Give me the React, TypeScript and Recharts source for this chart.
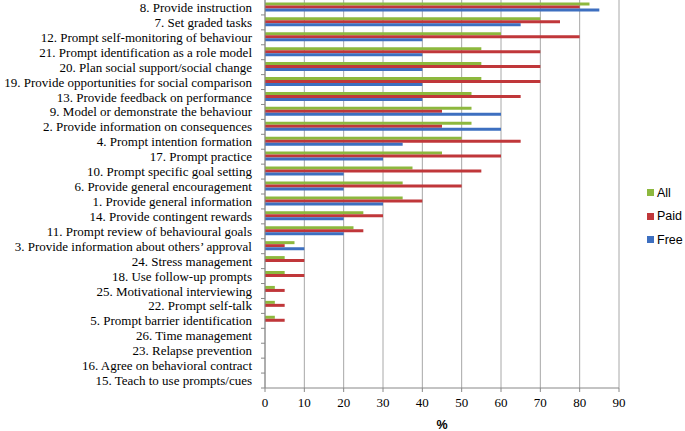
import React from "react";
import { BarChart, Bar, XAxis, YAxis, CartesianGrid, Legend, Label } from "recharts";

const categories = [
  "8. Provide instruction",
  "7. Set graded tasks",
  "12. Prompt self-monitoring of behaviour",
  "21. Prompt identification as a role model",
  "20. Plan social support/social change",
  "19. Provide opportunities for social comparison",
  "13. Provide feedback on performance",
  "9. Model or demonstrate the behaviour",
  "2. Provide information on consequences",
  "4. Prompt intention formation",
  "17. Prompt practice",
  "10. Prompt specific goal setting",
  "6. Provide general encouragement",
  "1. Provide general information",
  "14. Provide contingent rewards",
  "11. Prompt review of behavioural goals",
  "3. Provide information about others\u2019 approval",
  "24. Stress management",
  "18. Use follow-up prompts",
  "25. Motivational interviewing",
  "22. Prompt self-talk",
  "5. Prompt barrier identification",
  "26. Time management",
  "23. Relapse prevention",
  "16. Agree on behavioral contract",
  "15. Teach to use prompts/cues",
];

const allValues = [82.5, 70, 60, 55, 55, 55, 52.5, 52.5, 52.5, 50, 45, 37.5, 35, 35, 25, 22.5, 7.5, 5, 5, 2.5, 2.5, 2.5, 0, 0, 0, 0];
const paidValues = [80, 75, 80, 70, 70, 70, 65, 45, 45, 65, 60, 55, 50, 40, 30, 25, 5, 10, 10, 5, 5, 5, 0, 0, 0, 0];
const freeValues = [85, 65, 40, 40, 40, 40, 40, 60, 60, 35, 30, 20, 20, 30, 20, 20, 10, 0, 0, 0, 0, 0, 0, 0, 0, 0];

const xTicks = [0, 10, 20, 30, 40, 50, 60, 70, 80, 90];

const seriesNames = ["All", "Paid", "Free"];
const seriesColors = ["#8DB83E", "#C0373A", "#3D6FC0"];

const data = categories.map((c, i) => ({
  name: c,
  All: allValues[i],
  Paid: paidValues[i],
  Free: freeValues[i],
}));

const YTick = (props: any) => {
  const { x, y, payload } = props;
  const off = payload && typeof payload.offset === "number" ? payload.offset : 7.46;
  return (
    <g>
      <line x1={x - 4} x2={x} y1={y + off} y2={y + off} stroke="#888" strokeWidth={1} />
      <text
        x={x - 13}
        y={y}
        textAnchor="end"
        dominantBaseline="central"
        fontFamily="'Liberation Serif', 'Times New Roman', serif"
        fontSize={13}
        fill="#000"
      >
        {payload.value}
      </text>
    </g>
  );
};

const LegendContent = () => (
  <div style={{ fontFamily: "'Liberation Sans', Arial, sans-serif", fontSize: 12.5, color: "#000" }}>
    {seriesNames.map((n, i) => (
      <div key={n} style={{ display: "flex", alignItems: "center", height: 23.5 }}>
        <span style={{ display: "inline-block", width: 7, height: 7, background: seriesColors[i], marginRight: 3 }} />
        <span>{n}</span>
      </div>
    ))}
  </div>
);

export default function App() {
  return (
    <div style={{ position: "absolute", left: 0, top: 0, width: 685, height: 431, background: "#fff" }}>
      <BarChart
        width={685}
        height={431}
        data={data}
        layout="vertical"
        margin={{ top: 0, right: 66, bottom: 0, left: 0 }}
        barCategoryGap="16%"
        barGap={0}
      >
        <CartesianGrid horizontal={false} stroke="#a8a8a8" />
        <XAxis
          type="number"
          domain={[0, 90]}
          ticks={xTicks}
          interval={0}
          height={43}
          axisLine={{ stroke: "#888" }}
          tickLine={{ stroke: "#888" }}
          tickSize={4}
          tickMargin={6}
          tick={{ fontFamily: "'Liberation Serif', 'Times New Roman', serif", fontSize: 13, fill: "#000" }}
        >
          <Label
            value="%"
            position="insideBottom"
            offset={2}
            style={{ fontFamily: "'Liberation Sans', Arial, sans-serif", fontSize: 12.5, fill: "#000", fontWeight: "bold" }}
          />
        </XAxis>
        <YAxis
          type="category"
          dataKey="name"
          width={265}
          interval={0}
          axisLine={{ stroke: "#888" }}
          tickLine={false}
          tickSize={0}
          tickMargin={0}
          tick={<YTick />}
        />
        <Legend
          layout="vertical"
          align="center"
          verticalAlign="middle"
          content={<LegendContent />}
          wrapperStyle={{ left: 647, top: 181, width: 40 }}
        />
        {seriesNames.map((n, i) => (
          <Bar key={n} dataKey={n} fill={seriesColors[i]} isAnimationActive={false} />
        ))}
      </BarChart>
    </div>
  );
}
